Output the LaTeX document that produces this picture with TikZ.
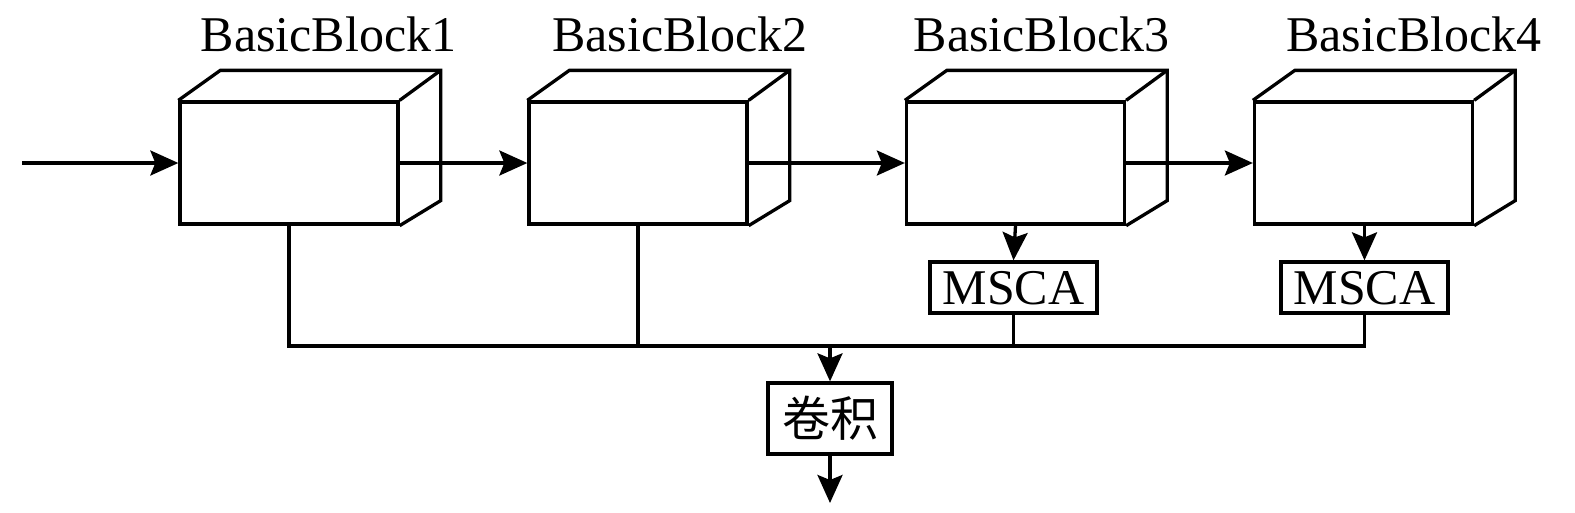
\documentclass[tikz,border=0pt]{standalone}
\usepackage{fontspec}
\setmainfont{Liberation Serif}
\newfontfamily\cjk{Noto Sans CJK SC}
\usetikzlibrary{arrows.meta}
\tikzset{
  ln/.style={line width=3.3pt},
  arr/.style={ln,-{Stealth[length=28pt,width=25pt,inset=5pt]}},
  blk/.style={ln,draw,minimum width=218pt,minimum height=122pt,inner sep=0pt},
  lbl/.style={anchor=base,inner sep=0pt,font=\fontsize{50}{60}\selectfont},
  msca/.style={ln,draw,minimum width=167pt,minimum height=51pt,inner sep=0pt,
    font=\fontsize{50}{60}\selectfont,text height=34pt,text depth=0pt},
  conv/.style={ln,draw,minimum width=124pt,minimum height=71pt,inner sep=0pt,
    font=\cjk\fontsize{48}{56}\selectfont,text height=40pt,text depth=3.4pt},
  backedge/.style={ln,line join=miter}
}
\newcommand{\backof}[1]{%
  \draw[backedge] (#1.north west) -- ++(42,-30) -- ([shift={(41,-30)}]#1.north east)
    -- ([shift={(41,-25)}]#1.south east) -- (#1.south east);
  \draw[backedge] (#1.north east) -- ++(41,-30);
}
\begin{document}
\begin{tikzpicture}[x=1pt,y=-1pt]
\useasboundingbox (0,0) rectangle (1575,512);
\node[blk] (b1) at (289,163) {};
\node[blk] (b2) at (638,163) {};
\node[blk] (b3) at (1015.5,163) {};
\node[blk] (b4) at (1363.5,163) {};
\backof{b1}\backof{b2}\backof{b3}\backof{b4}
\node[lbl] (l1) at (328.5,51) {BasicBlock1};
\node[lbl] (l2) at (680,51) {BasicBlock2};
\node[lbl] (l3) at (1041.5,51) {BasicBlock3};
\node[lbl] (l4) at (1414,51) {BasicBlock4};
\node[msca] (m3) at (1013.5,287.5) {MSCA};
\node[msca] (m4) at (1364.5,287.5) {MSCA};
\node[conv] (c) at (830,418.5) {卷积};
\coordinate (in) at (22,163);
\coordinate (bus) at (0,346);
\coordinate (j) at (830,346);
\coordinate (out) at (830,503);
\draw[arr] (in) -- (b1.west);
\draw[arr] (b1.east) -- (b2.west);
\draw[arr] (b2.east) -- (b3.west);
\draw[arr] (b3.east) -- (b4.west);
\draw[arr] (b3.south) -- (m3.north);
\draw[arr] (m4.north |- b4.south) -- (m4.north);
\draw[ln] (b1.south) -- (b1.south |- bus);
\draw[ln] (b2.south) -- (b2.south |- bus);
\draw[ln] (m3.south) -- (m3.south |- bus);
\draw[ln] (m4.south) -- (m4.south |- bus);
\draw[ln,line cap=rect] (b1.south |- bus) -- (m4.south |- bus);
\draw[arr] (j) -- (c.north);
\draw[arr] (c.south) -- (out);
\end{tikzpicture}
\end{document}
